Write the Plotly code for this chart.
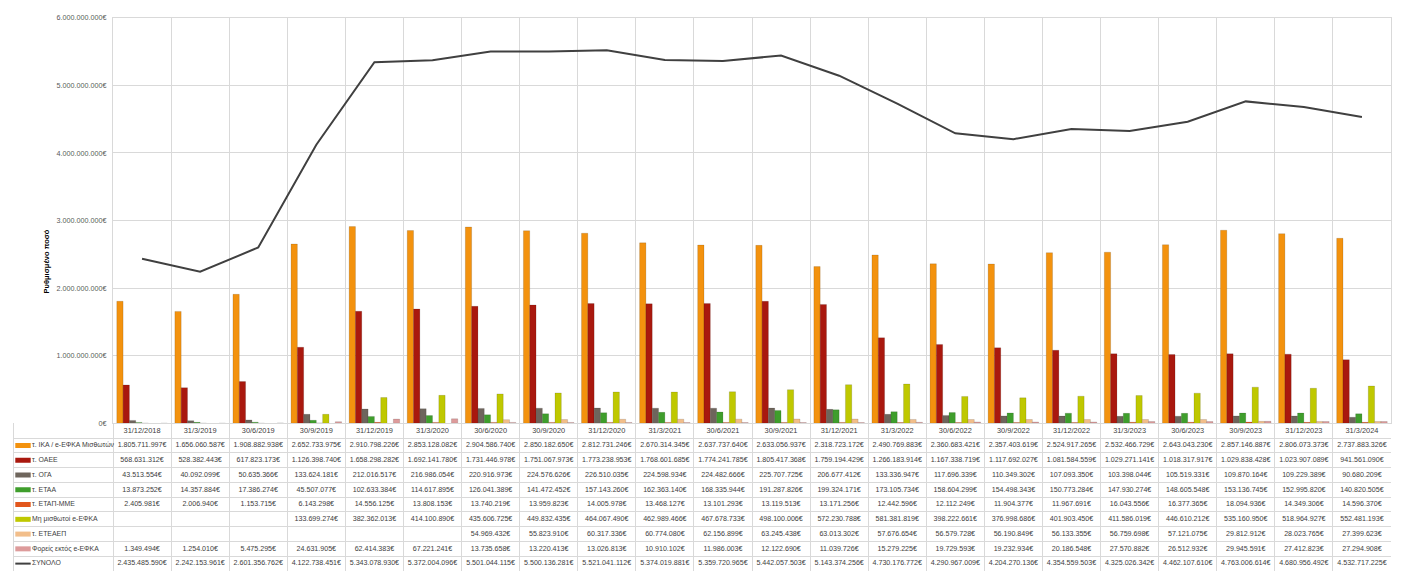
import plotly.graph_objects as go

dates = ["31/12/2018", "31/3/2019", "30/6/2019", "30/9/2019", "31/12/2019", "31/3/2020",
         "30/6/2020", "30/9/2020", "31/12/2020", "31/3/2021", "30/6/2021", "30/9/2021",
         "31/12/2021", "31/3/2022", "30/6/2022", "30/9/2022", "31/12/2022", "31/3/2023",
         "30/6/2023", "30/9/2023", "31/12/2023", "31/3/2024"]

ika = [1805711997, 1656060587, 1908882938, 2652733975, 2910798226, 2853128082, 2904586740,
       2850182650, 2812731246, 2670314345, 2637737640, 2633056937, 2318723172, 2490769883,
       2360683421, 2357403619, 2524917265, 2532466729, 2643043230, 2857146887, 2806073373,
       2737883326]
oaee = [568631312, 528382443, 617823173, 1126398740, 1658298282, 1692141780, 1731446978,
        1751067973, 1773238953, 1768601685, 1774241785, 1805417368, 1759194429, 1266183914,
        1167338719, 1117692027, 1081584559, 1029271141, 1018317917, 1029838428, 1023907089,
        941561090]
oga = [43513554, 40092099, 50635366, 133624181, 212016517, 216986054, 220916973, 224576626,
       226510035, 224598934, 224482666, 225707725, 206677412, 133336947, 117696339, 110349302,
       107093350, 103398044, 105519331, 109870164, 109229389, 90680209]
etaa = [13873252, 14357884, 17386274, 45507077, 102633384, 114617895, 126041389, 141472452,
        157143260, 162363140, 168335944, 191287826, 199324171, 173105734, 158604299, 154498343,
        150773284, 147930274, 148605548, 153136745, 152995820, 140820505]
etap = [2405981, 2006940, 1153715, 6143298, 14556125, 13808153, 13740219, 13959823, 14005978,
        13468127, 13101293, 13119513, 13171256, 12442596, 12112249, 11904377, 11967691,
        16043556, 16377365, 18094936, 14349306, 14596370]
mi_misth = [None, None, None, 133699274, 382362013, 414100890, 435606725, 449832435, 464067490,
            462989466, 467678733, 498100006, 572230788, 581381819, 398222661, 376998686,
            401903450, 411586019, 446610212, 535160950, 518964927, 552481193]
eteaep = [None, None, None, None, None, None, 54969432, 55823910, 60317336, 60774080, 62156899,
          63245438, 63013302, 57676654, 56579728, 56190849, 56133355, 56759698, 57121075,
          29812912, 28023765, 27399623]
foreis = [1349494, 1254010, 5475295, 24631905, 62414383, 67221241, 13735658, 13220413,
          13026813, 10910102, 11986003, 12122690, 11039726, 15279225, 19729593, 19232934,
          20186548, 27570882, 26512932, 29945591, 27412823, 27294908]
synolo = [2435485590, 2242153961, 2601356762, 4122738451, 5343078930, 5372004096, 5501044115,
          5500136281, 5521041112, 5374019881, 5359720965, 5442057503, 5143374256, 4730176772,
          4290967009, 4204270136, 4354559503, 4325026342, 4462107610, 4763006614, 4680956492,
          4532717225]

bar_names = ["τ. ΙΚΑ / e-ΕΦΚΑ Μισθωτών", "τ. ΟΑΕΕ", "τ. ΟΓΑ", "τ. ΕΤΑΑ", "τ. ΕΤΑΠ-ΜΜΕ",
             "Μη μισθωτοί e-ΕΦΚΑ", "τ. ΕΤΕΑΕΠ", "Φορείς εκτός e-ΕΦΚΑ"]
bar_series = [ika, oaee, oga, etaa, etap, mi_misth, eteaep, foreis]
bar_colors = ["#F3920E", "#A9180E", "#6E655C", "#3F9E2C", "#E2561C", "#BFC800", "#F2BE8A", "#DD9B9B"]
line_name = "ΣΥΝΟΛΟ"
line_color = "#404040"

ytick_vals = [0, 1e9, 2e9, 3e9, 4e9, 5e9, 6e9]
ytick_text = ["0€", "1.000.000.000€", "2.000.000.000€", "3.000.000.000€",
              "4.000.000.000€", "5.000.000.000€", "6.000.000.000€"]

W, H = 1419, 576
FONT = "Liberation Sans, Arial"
TXT = "#404040"
GRID = "#D9D9D9"
px_x = lambda p: p / W
px_y = lambda p: 1 - p / H

plot_left, plot_right, plot_top, plot_bottom = 113, 1391, 14, 426
table_left = 14
ncol = len(dates)
cat_w = (plot_right - plot_left) / ncol
x_min = -0.5 - (plot_left - table_left) / cat_w


def fmt(v):
    if v is None:
        return ""
    return f"{v:,}".replace(",", ".") + "€"


fig = go.Figure()
for name, vals, col in zip(bar_names, bar_series, bar_colors):
    fig.add_trace(go.Bar(x=dates, y=vals, name=name,
                         marker=dict(color=col, line=dict(color="rgba(0,0,0,0.25)", width=0.5)),
                         showlegend=False, hoverinfo="skip"))
fig.add_trace(go.Scatter(x=dates, y=synolo, name=line_name, mode="lines",
                         line=dict(color=line_color, width=2), showlegend=False,
                         hoverinfo="skip"))

# ---- data table (second subplot) ----
all_series = bar_series + [synolo]
all_names = bar_names + [line_name]
all_colors = bar_colors + [line_color]
col_idx = list(range(ncol))
nrow = len(all_names)

# legend swatches (drawn first so that labels sit on top)
fig.add_trace(go.Scatter(x=[x_min + 9 / cat_w] * nrow, y=list(range(nrow)), mode="markers",
                         marker=dict(symbol="line-ew", size=11,
                                     line=dict(color=all_colors,
                                               width=[5] * (nrow - 1) + [2])),
                         xaxis="x2", yaxis="y2", showlegend=False, hoverinfo="skip"))
fig.add_trace(go.Scatter(x=col_idx, y=[-1] * ncol, text=dates, mode="text",
                         textposition="middle center", xaxis="x2", yaxis="y2",
                         textfont=dict(family=FONT, size=7.4, color=TXT),
                         showlegend=False, hoverinfo="skip"))
for r, s in enumerate(all_series):
    fig.add_trace(go.Scatter(x=col_idx, y=[r] * ncol, text=[fmt(v) for v in s], mode="text",
                             textposition="middle center", xaxis="x2", yaxis="y2",
                             textfont=dict(family=FONT, size=7.1, color=TXT),
                             showlegend=False, hoverinfo="skip"))
fig.add_trace(go.Scatter(x=[x_min + 18 / cat_w] * nrow, y=list(range(nrow)), text=all_names,
                         mode="text", textposition="middle right", xaxis="x2", yaxis="y2",
                         textfont=dict(family=FONT, size=6.9, color=TXT),
                         showlegend=False, hoverinfo="skip"))

fig.add_annotation(text="<b>Ρυθμισμένο ποσό</b>", textangle=-90, xref="paper", yref="paper",
                   x=px_x(40), y=px_y(262), showarrow=False,
                   font=dict(family=FONT, size=7.5, color="#000000"))

fig.update_layout(
    width=W, height=H, margin=dict(l=0, r=0, t=0, b=0),
    paper_bgcolor="white", plot_bgcolor="rgba(0,0,0,0)",
    barmode="group", bargap=0.13, bargroupgap=0, hovermode=False,
    xaxis=dict(domain=[px_x(plot_left), px_x(plot_right)], type="category",
               showticklabels=False, tickson="boundaries", showgrid=True,
               gridcolor=GRID, gridwidth=1, showline=True, linecolor=GRID,
               mirror=True, ticks="", fixedrange=True),
    yaxis=dict(domain=[px_y(plot_bottom), px_y(plot_top)], range=[0, 6e9],
               tickvals=ytick_vals, ticktext=ytick_text, showgrid=True,
               gridcolor=GRID, gridwidth=1, zeroline=False, showline=True,
               linecolor=GRID, mirror=True, ticks="", ticklabelstandoff=4,
               tickfont=dict(family=FONT, size=7.2, color="#595959"), fixedrange=True),
    xaxis2=dict(domain=[px_x(table_left), px_x(plot_right)], range=[x_min, ncol - 0.5],
                tickvals=[k - 0.5 for k in range(ncol + 1)], showticklabels=False,
                showgrid=True, gridcolor=GRID, gridwidth=1, zeroline=False, ticks="",
                showline=False, anchor="y2", fixedrange=True),
    yaxis2=dict(domain=[0, px_y(plot_bottom)], range=[nrow - 0.5, -1.5],
                tickvals=[k - 0.5 for k in range(nrow + 1)], showticklabels=False,
                showgrid=True, gridcolor=GRID, gridwidth=1, zeroline=False, ticks="",
                showline=True, linecolor=GRID, anchor="x2", fixedrange=True),
)

post = ("document.body.style.margin='0';document.body.style.padding='0';"
        "document.documentElement.style.overflow='hidden';document.body.style.overflow='hidden';")
fig.write_html("out.html", post_script=post, config={"displayModeBar": False})
